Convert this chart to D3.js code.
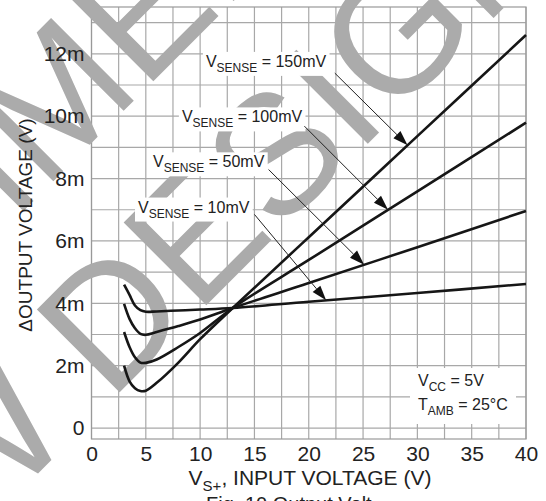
<!DOCTYPE html>
<html lang="en">
<head>
  <meta charset="UTF-8">
  <title>Output voltage vs input voltage</title>
  <style>
    html, body { margin: 0; padding: 0; background: #fff; }
    svg { display: block; font-family: "Liberation Sans", Arial, sans-serif; }
  </style>
</head>
<body>
  <div id="main"></div>
  <script src="https://d3js.org/d3.v7.min.js"></script>
  <script>
    // input voltage (V) and output shift (mV) for each V_SENSE curve
    const vin = [3, 3.5, 4, 4.5, 5, 6, 8, 10, 13, 20, 30, 40]
    const out150 = [2.00, 1.50, 1.28, 1.19, 1.20, 1.45, 2.10, 2.85, 3.85, 6.12, 9.36, 12.60]
    const out100 = [3.08, 2.60, 2.27, 2.10, 2.09, 2.20, 2.60, 3.05, 3.85, 5.39, 7.59, 9.79]
    const out50 = [3.98, 3.50, 3.20, 3.02, 2.99, 3.08, 3.27, 3.48, 3.85, 4.65, 5.80, 6.96]
    const out10 = [4.60, 4.27, 3.93, 3.78, 3.73, 3.74, 3.77, 3.80, 3.85, 4.05, 4.33, 4.62]
    const seriesList = [out150, out100, out50, out10]

    // curve labels and where their arrows go (data units)
    const senseLabels = ['150mV', '100mV', '50mV', '10mV']
    const labelX = [10.53, 8.32, 5.66, 4.28]
    const labelY = [11.58, 9.80, 8.36, 6.91]
    const arrowFromX = [22.4, 19.6, 16.3, 15.0]
    const arrowFromY = [11.38, 9.68, 8.29, 6.85]
    const arrowTipX = [29.1, 27.3, 25.1, 21.6]

    const xTicks = [0, 5, 10, 15, 20, 25, 30, 35, 40]
    const yTicks = [0, 2, 4, 6, 8, 10, 12]
    const xGrid = d3.range(0, 40.01, 2.5)
    const yGrid = d3.range(0, 14, 1)

    const [width, height] = [546, 501]
    const svg = d3.select('#main').append('svg')
      .attr('width', width)
      .attr('height', height)
      .attr('viewBox', `0 0 ${width} ${height}`)

    svg.append('rect').attr('width', width).attr('height', height).attr('fill', '#fff')

    const x = d3.scaleLinear().domain([0, 40]).range([91.5, 526])
    const y = d3.scaleLinear().domain([-0.35, 13.5]).range([439, 7])

    // grid
    const grid = svg.append('g').attr('stroke', '#a8a8a8').attr('stroke-width', 1.2)
    grid.selectAll('.vx').data(xGrid).join('line')
      .attr('x1', d => x(d)).attr('x2', d => x(d))
      .attr('y1', y.range()[0]).attr('y2', y.range()[1])
    grid.selectAll('.hy').data(yGrid).join('line')
      .attr('x1', x.range()[0]).attr('x2', x.range()[1])
      .attr('y1', d => y(d)).attr('y2', d => y(d))
    svg.append('rect')
      .attr('x', x(0)).attr('y', y(13.5))
      .attr('width', x(40) - x(0)).attr('height', y(-0.35) - y(13.5))
      .attr('fill', 'none').attr('stroke', '#999').attr('stroke-width', 1.2)

    // watermark
    const wm = svg.append('g').attr('fill', '#ababab')
      .style('font-family', '"Liberation Sans", Arial, sans-serif')
      .style('font-size', '170px')
    wm.append('text')
      .attr('transform', 'translate(180,245) rotate(-45)')
      .attr('text-anchor', 'middle').attr('dy', '0.36em')
      .text('NEW DESIGNS')
    wm.append('text')
      .attr('transform', 'translate(38,110) rotate(-45)')
      .attr('text-anchor', 'middle').attr('dy', '0.36em')
      .text('NOT RECOMMENDED FOR')

    // axes
    const xAxis = svg.append('g')
      .attr('transform', `translate(0, ${y(-0.35)})`)
      .call(d3.axisBottom(x).tickValues(xTicks).tickSize(0).tickPadding(7))
    const yAxis = svg.append('g')
      .attr('transform', `translate(${x(0)}, 0)`)
      .call(d3.axisLeft(y).tickValues(yTicks).tickSize(0).tickPadding(7)
        .tickFormat(d => d === 0 ? '0' : d + 'm'))
    ;[xAxis, yAxis].forEach(a => {
      a.select('.domain').remove()
      a.selectAll('text')
        .style('font-family', '"Liberation Sans", Arial, sans-serif')
        .style('font-size', '21px').attr('fill', '#222')
    })

    // curves
    const line = d3.line()
      .x(d => x(d[0])).y(d => y(d[1]))
      .curve(d3.curveCatmullRom.alpha(0.5))
    svg.append('g').selectAll('path').data(seriesList).join('path')
      .attr('d', s => line(vin.map((v, i) => [v, s[i]])))
      .attr('fill', 'none').attr('stroke', '#161616').attr('stroke-width', 2.6)

    // label boxes + arrows
    const interp = (s, xv) => {
      const i = d3.bisectRight(vin, xv) - 1
      const t = (xv - vin[i]) / (vin[i + 1] - vin[i])
      return s[i] + t * (s[i + 1] - s[i])
    }
    const labels = svg.append('g')
    senseLabels.forEach((name, i) => {
      const g = labels.append('g')
      const bg = g.append('rect').attr('fill', '#fff')
      const t = g.append('text')
        .attr('x', x(labelX[i])).attr('y', y(labelY[i]))
        .style('font-size', '16px').attr('fill', '#222')
      t.append('tspan').text('V')
      t.append('tspan').attr('dy', 5).style('font-size', '12px').text('SENSE')
      t.append('tspan').attr('dy', -5).text(' = ' + name)
      const b = t.node().getBBox()
      bg.attr('x', b.x - 3).attr('y', b.y - 1).attr('width', b.width + 6).attr('height', b.height + 2)

      const sx = x(arrowFromX[i]), sy = y(arrowFromY[i])
      const tx = x(arrowTipX[i]), ty = y(interp(seriesList[i], arrowTipX[i]))
      const len = Math.hypot(tx - sx, ty - sy)
      const ux = (tx - sx) / len, uy = (ty - sy) / len
      const hl = 15, hw = 5
      const bx = tx - ux * hl, by = ty - uy * hl
      g.append('line').attr('x1', sx).attr('y1', sy).attr('x2', bx).attr('y2', by)
        .attr('stroke', '#222').attr('stroke-width', 1)
      g.append('path')
        .attr('d', `M${tx},${ty}L${bx - uy * hw},${by + ux * hw}L${bx + uy * hw},${by - ux * hw}Z`)
        .attr('fill', '#111')
    })

    // conditions box
    const cond = svg.append('g')
    cond.append('rect').attr('x', 410).attr('y', 368).attr('width', 106).attr('height', 56).attr('fill', '#fff')
    const c1 = cond.append('text').attr('x', 418).attr('y', 386).style('font-size', '16px').attr('fill', '#222')
    c1.append('tspan').text('V')
    c1.append('tspan').attr('dy', 5).style('font-size', '12px').text('CC')
    c1.append('tspan').attr('dy', -5).text(' = 5V')
    const c2 = cond.append('text').attr('x', 418).attr('y', 410).style('font-size', '16px').attr('fill', '#222')
    c2.append('tspan').text('T')
    c2.append('tspan').attr('dy', 5).style('font-size', '12px').text('AMB')
    c2.append('tspan').attr('dy', -5).text(' = 25°C')

    // axis titles
    const xt = svg.append('text').attr('x', 310).attr('y', 485)
      .attr('text-anchor', 'middle').style('font-size', '21px').attr('fill', '#222')
    xt.append('tspan').text('V')
    xt.append('tspan').attr('dy', 6).style('font-size', '15px').text('S+')
    xt.append('tspan').attr('dy', -6).text(', INPUT VOLTAGE (V)')

    svg.append('text')
      .attr('transform', 'translate(32,225) rotate(-90)')
      .attr('text-anchor', 'middle').style('font-size', '19px').attr('fill', '#222')
      .text('\u0394OUTPUT VOLTAGE (V)')

    // caption, mostly below the picture's lower edge
    svg.append('text').attr('x', 206).attr('y', 511)
      .style('font-size', '20px').attr('fill', '#222')
      .text('Fig. 10 Output Volt')
  </script>
</body>
</html>
